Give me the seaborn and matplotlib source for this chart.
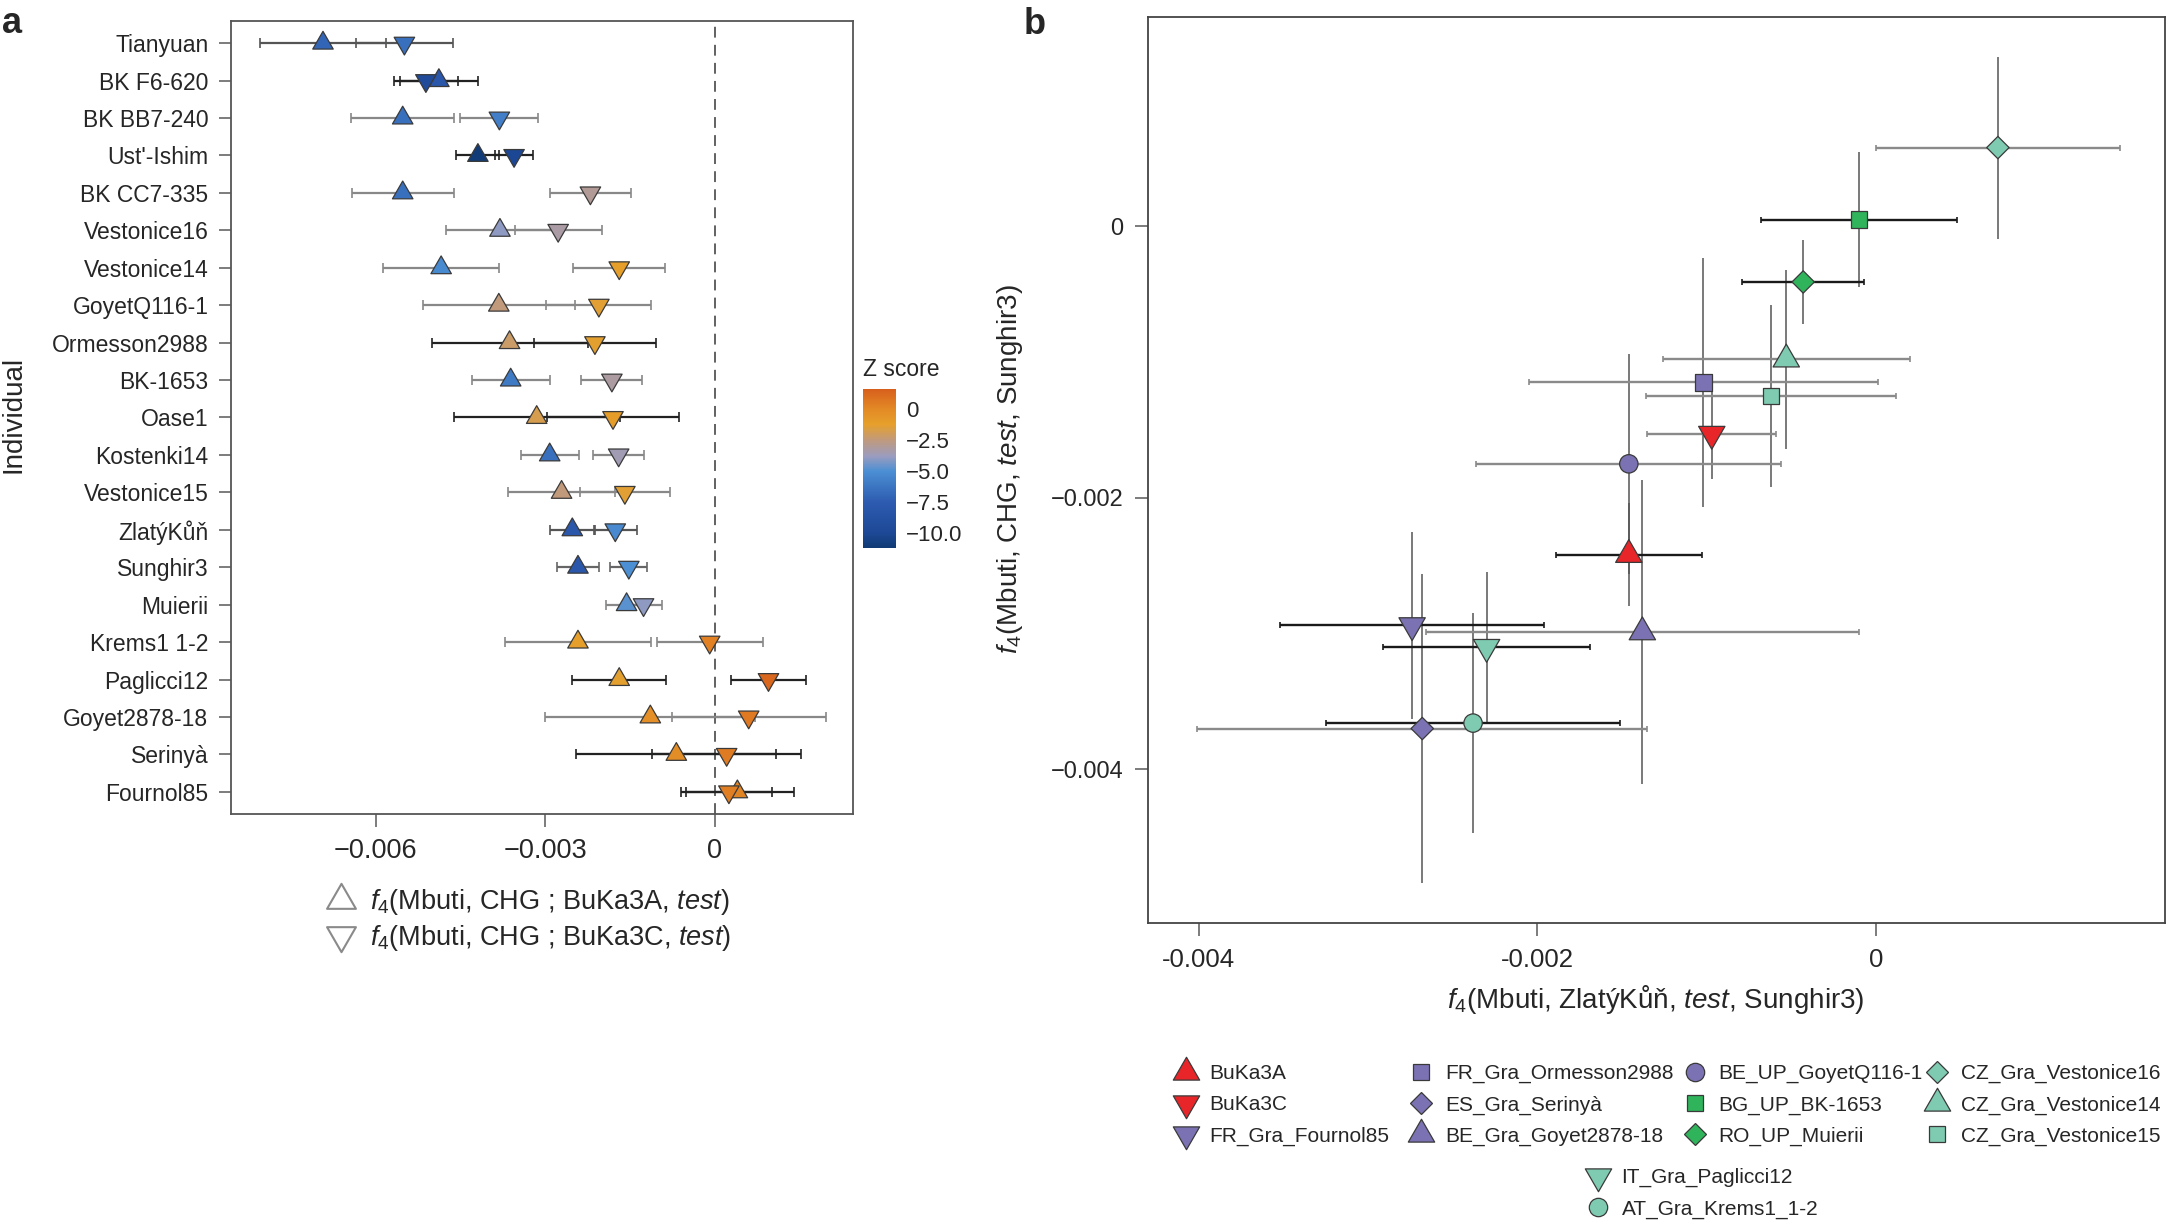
import numpy as np
import pandas as pd
import seaborn as sns
import matplotlib
matplotlib.use("Agg")
import matplotlib.pyplot as plt
from matplotlib.colors import LinearSegmentedColormap, Normalize
from matplotlib.cm import ScalarMappable
from matplotlib.lines import Line2D
from matplotlib.markers import MarkerStyle
from matplotlib.path import Path

# ----------------------------------------
# Panel a data: f4(Mbuti, CHG ; BuKa3A/BuKa3C, test)
# ----------------------------------------
individuals = ["Tianyuan", "BK F6-620", "BK BB7-240", "Ust'-Ishim", "BK CC7-335",
               "Vestonice16", "Vestonice14", "GoyetQ116-1", "Ormesson2988", "BK-1653",
               "Oase1", "Kostenki14", "Vestonice15", "ZlatýKůň", "Sunghir3",
               "Muierii", "Krems1 1-2", "Paglicci12", "Goyet2878-18", "Serinyà", "Fournol85"]

f4_buka3a = [-0.00693, -0.00488, -0.00552, -0.00419, -0.00552, -0.00380, -0.00484, -0.00382, -0.00363, -0.00361,
             -0.00315, -0.00292, -0.00271, -0.00252, -0.00242, -0.00156, -0.00242, -0.00169, -0.00114, -0.00068, 0.00040]
se_buka3a = [0.00112, 0.00069, 0.00091, 0.00038, 0.00090, 0.00096, 0.00102, 0.00134, 0.00138, 0.00069,
             0.00147, 0.00051, 0.00095, 0.00040, 0.00037, 0.00036, 0.00129, 0.00083, 0.00186, 0.00177, 0.00100]
z_buka3a = [-7.0, -8.0, -6.5, -11.0, -6.5, -4.0, -5.2, -2.5, -2.2, -6.0,
            -1.8, -6.5, -2.5, -8.0, -8.0, -4.8, -1.2, -1.3, -0.3, -0.2, 0.2]

f4_buka3c = [-0.00549, -0.00511, -0.00381, -0.00355, -0.00220, -0.00277, -0.00169, -0.00205, -0.00212, -0.00182,
             -0.00180, -0.00170, -0.00159, -0.00176, -0.00152, -0.00126, -0.00009, 0.00095, 0.00060, 0.00021, 0.00025]
se_buka3c = [0.00086, 0.00057, 0.00069, 0.00033, 0.00071, 0.00077, 0.00081, 0.00093, 0.00108, 0.00054,
             0.00116, 0.00045, 0.00080, 0.00038, 0.00033, 0.00033, 0.00094, 0.00066, 0.00136, 0.00132, 0.00076]
z_buka3c = [-6.5, -9.5, -5.8, -10.0, -3.0, -3.3, -1.2, -1.4, -1.3, -3.2,
            -1.0, -3.6, -1.4, -5.3, -5.0, -4.0, 0.3, 1.3, 0.6, 0.5, 0.4]

# ----------------------------------------
# Panel b data: f4(Mbuti, ZlatýKůň, test, Sunghir3) vs f4(Mbuti, CHG, test, Sunghir3)
# ----------------------------------------
samples_b = ["BuKa3A", "BuKa3C", "FR_Gra_Fournol85",
             "FR_Gra_Ormesson2988", "ES_Gra_Serinyà", "BE_Gra_Goyet2878-18",
             "BE_UP_GoyetQ116-1", "BG_UP_BK-1653", "RO_UP_Muierii",
             "CZ_Gra_Vestonice16", "CZ_Gra_Vestonice14", "CZ_Gra_Vestonice15",
             "IT_Gra_Paglicci12", "AT_Gra_Krems1_1-2"]
x_b = [-0.00146, -0.00097, -0.00274, -0.00102, -0.00268, -0.00138, -0.00146,
       -0.00010, -0.00043, 0.00072, -0.00053, -0.00062, -0.00230, -0.00238]
xerr_b = [0.00043, 0.00038, 0.00078, 0.00103, 0.00133, 0.00128, 0.00090,
          0.00058, 0.00036, 0.00072, 0.00073, 0.00074, 0.00061, 0.00087]
y_b = [-0.00242, -0.00153, -0.00294, -0.00115, -0.00370, -0.00299, -0.00175,
       0.00005, -0.00041, 0.00058, -0.00098, -0.00125, -0.00310, -0.00366]
yerr_b = [0.00038, 0.00033, 0.00069, 0.00092, 0.00114, 0.00112, 0.00081,
          0.00050, 0.00031, 0.00067, 0.00066, 0.00067, 0.00055, 0.00081]

# ----------------------------------------
# Styles
# ----------------------------------------
sns.set_theme(style="white")
plt.rcParams["font.family"] = ["Liberation Sans", "DejaVu Sans"]
plt.rcParams["mathtext.fontset"] = "custom"
plt.rcParams["mathtext.rm"] = "Liberation Sans"
plt.rcParams["mathtext.it"] = "Liberation Sans:italic"
plt.rcParams["mathtext.bf"] = "Liberation Sans:bold"

W, H = 2167, 1227

# equilateral triangles centred on their centroid
TRI_UP = MarkerStyle(Path([(0, 1), (-0.866, -0.5), (0.866, -0.5), (0, 1)], closed=True))
TRI_DN = MarkerStyle(Path([(0, -1), (-0.866, 0.5), (0.866, 0.5), (0, -1)], closed=True))

# Z score colour map
z_min, z_max = -11.2, 1.6
z_nodes = [-11.2, -10, -7.5, -5, -3.8, -2.5, -1.2, 0, 1.6]
z_cols = ["#0f3a72", "#1d4896", "#2d5bb0", "#4b8fd3", "#9a9cc0", "#c09a7e", "#e6a02a", "#e38a26", "#d8601c"]
cmap = LinearSegmentedColormap.from_list(
    "zscore", [((v - z_min) / (z_max - z_min), c) for v, c in zip(z_nodes, z_cols)])
norm = Normalize(z_min, z_max)

# error bar shade per row in panel a
bar_col_a = ["#555555", "#222222", "#888888", "#222222", "#888888", "#888888", "#888888",
             "#888888", "#222222", "#888888", "#222222", "#888888", "#888888", "#555555",
             "#666666", "#888888", "#888888", "#222222", "#888888", "#222222", "#222222"]

grp_red, grp_pur, grp_grn, grp_teal = "#e8262a", "#7b72b4", "#2fb35b", "#7ecbb2"
col_b = dict(zip(samples_b, [grp_red, grp_red, grp_pur, grp_pur, grp_pur, grp_pur, grp_pur,
                             grp_grn, grp_grn, grp_teal, grp_teal, grp_teal, grp_teal, grp_teal]))
mk_b = dict(zip(samples_b, [TRI_UP, TRI_DN, TRI_DN, "s", "D", TRI_UP, "o",
                            "s", "D", "D", TRI_UP, "s", TRI_DN, "o"]))
size_of = {"tri": 480, "s": 140, "D": 130, "o": 175}
sz_b = {k: size_of["tri"] if isinstance(m, MarkerStyle) else size_of[m] for k, m in mk_b.items()}
hbar_col_b = ["#1a1a1a", "#8a8a8a", "#1a1a1a", "#8a8a8a", "#8a8a8a", "#8a8a8a", "#8a8a8a",
              "#1a1a1a", "#1a1a1a", "#8a8a8a", "#8a8a8a", "#8a8a8a", "#1a1a1a", "#1a1a1a"]

fig = plt.figure(figsize=(W / 100, H / 100), dpi=100)
ax_a = fig.add_axes([231.4 / W, 1 - 814.3 / H, (853 - 231.4) / W, (814.3 - 20.7) / H])
cax = fig.add_axes([863.3 / W, 1 - 548.3 / H, 32.7 / W, 159 / H])
ax_b = fig.add_axes([1148 / W, 1 - 923.3 / H, (2165 - 1148) / W, (923.3 - 16.6) / H])

# ----------------------------------------
# Panel a
# ----------------------------------------
rows = np.arange(len(individuals))
df_a = pd.concat([
    pd.DataFrame({"row": rows, "f4": f4_buka3a, "se": se_buka3a, "z": z_buka3a, "ref": "BuKa3A"}),
    pd.DataFrame({"row": rows, "f4": f4_buka3c, "se": se_buka3c, "z": z_buka3c, "ref": "BuKa3C"}),
], ignore_index=True)

ax_a.axvline(0, color="#555555", lw=1.3, ls=(0, (6, 4)), zorder=1)
for _, r in df_a.iterrows():
    ax_a.errorbar(r["f4"], r["row"], xerr=r["se"], fmt="none",
                  ecolor=bar_col_a[int(r["row"])], elinewidth=1.6, capsize=3.6, capthick=1.2, zorder=2)

sns.scatterplot(data=df_a, x="f4", y="row", hue="z", hue_norm=norm, palette=cmap,
                style="ref", markers={"BuKa3A": TRI_UP, "BuKa3C": TRI_DN},
                s=290, edgecolor="#3a3a3a", linewidth=0.9, legend=False, ax=ax_a, zorder=3)

ax_a.set_xlim(-0.00855, 0.002445)
ax_a.set_ylim(len(individuals) - 0.4, -0.6)
ax_a.set_yticks(rows)
ax_a.set_yticklabels(individuals)
ax_a.set_xticks([-0.006, -0.003, 0])
ax_a.set_xticklabels(["\u22120.006", "\u22120.003", "0"])
ax_a.set_xlabel("")
ax_a.set_ylabel("")
ax_a.tick_params(axis="y", length=8.5, width=1.2, color="#666666", labelsize=16.5, pad=8, left=True)
ax_a.tick_params(axis="x", length=9, width=1.2, color="#666666", labelsize=19.5, pad=8, bottom=True)
for sp in ax_a.spines.values():
    sp.set_color("#555555")
    sp.set_linewidth(1.3)

fig.text(14 / W, 1 - 414.6 / H, "Individual", rotation=90, ha="center", va="center", fontsize=20)

leg_a_handles = [
    Line2D([], [], ls="", marker=TRI_UP, ms=24, mfc="white", mec="#8a8a8a", mew=1.5),
    Line2D([], [], ls="", marker=TRI_DN, ms=24, mfc="white", mec="#8a8a8a", mew=1.5),
]
leg_a_labels = [r"$f_4$(Mbuti, CHG ; BuKa3A, $\mathit{test}$)",
                r"$f_4$(Mbuti, CHG ; BuKa3C, $\mathit{test}$)"]
fig.legend(leg_a_handles, leg_a_labels, loc="center left",
           bbox_to_anchor=((341.5 - 15) / W, 1 - 920 / H), frameon=False, fontsize=19.5,
           handlelength=1.1, handletextpad=0.5, labelspacing=0.2, borderpad=0, borderaxespad=0)

# colour bar
sm = ScalarMappable(norm=norm, cmap=cmap)
cb = fig.colorbar(sm, cax=cax)
cb.outline.set_visible(False)
cb.set_ticks([0, -2.5, -5, -7.5, -10])
cb.set_ticklabels(["0", "\u22122.5", "\u22125.0", "\u22127.5", "\u221210.0"])
cax.yaxis.set_ticks_position("both")
cax.tick_params(axis="y", direction="in", color="white", length=5, width=1.2,
                labelsize=16, pad=7, labelleft=False, labelright=True)
fig.text(863 / W, 1 - 370 / H, "Z score", ha="left", va="center", fontsize=16.5)

# ----------------------------------------
# Panel b
# ----------------------------------------
df_b = pd.DataFrame({"sample": samples_b, "x": x_b, "y": y_b, "xerr": xerr_b, "yerr": yerr_b})

for i, r in df_b.iterrows():
    ax_b.errorbar(r["x"], r["y"], yerr=r["yerr"], fmt="none", ecolor="#555555",
                  elinewidth=1.1, capsize=0, zorder=2)
for i, r in df_b.iterrows():
    ax_b.errorbar(r["x"], r["y"], xerr=r["xerr"], fmt="none", ecolor=hbar_col_b[i],
                  elinewidth=1.7, capsize=2.5, capthick=1.2, zorder=2)

sns.scatterplot(data=df_b, x="x", y="y", hue="sample", palette=col_b,
                style="sample", markers=mk_b, size="sample", sizes=sz_b,
                edgecolor="#3a3a3a", linewidth=0.9, legend=False, ax=ax_b, zorder=3)

ax_b.set_xlim(-0.0043, 0.001707)
ax_b.set_ylim(-0.005135, 0.001545)
ax_b.set_xticks([-0.004, -0.002, 0])
ax_b.set_xticklabels(["-0.004", "-0.002", "0"])
ax_b.set_yticks([-0.004, -0.002, 0])
ax_b.set_yticklabels(["\u22120.004", "\u22120.002", "0"])
ax_b.set_xlabel("")
ax_b.set_ylabel("")
ax_b.tick_params(axis="both", length=9.5, width=1.2, color="#666666", labelsize=17, pad=8,
                 left=True, bottom=True)
ax_b.tick_params(axis="x", labelsize=18.5)
for sp in ax_b.spines.values():
    sp.set_color("#444444")
    sp.set_linewidth(1.3)

fig.text(1656 / W, 1 - 1000 / H, r"$f_4$(Mbuti, ZlatýKůň, $\mathit{test}$, Sunghir3)",
         ha="center", va="center", fontsize=20)
fig.text(1010 / W, 1 - 469.6 / H, r"$f_4$(Mbuti, CHG, $\mathit{test}$, Sunghir3)",
         rotation=90, ha="center", va="center", fontsize=20)

# legend for panel b: four columns of three, then two centred entries
def leg_handle(name):
    m = mk_b[name]
    return Line2D([], [], ls="", marker=m, ms=np.sqrt(sz_b[name]), mfc=col_b[name],
                  mec="#3a3a3a", mew=0.9)

leg_fs = 15
hl = 1.0
col_groups = [samples_b[0:3], samples_b[3:6], samples_b[6:9], samples_b[9:12]]
col_x = [1185.7, 1421, 1694.7, 1936.6]
for names, xm in zip(col_groups, col_x):
    fig.legend([leg_handle(n) for n in names], names, loc="center left",
               bbox_to_anchor=((xm - hl * leg_fs * 100 / 72 / 2) / W, 1 - 1105 / H),
               frameon=False, fontsize=leg_fs, handlelength=hl, handletextpad=0.65,
               labelspacing=0.58, borderpad=0, borderaxespad=0)
fig.legend([leg_handle(n) for n in samples_b[12:]], samples_b[12:], loc="center left",
           bbox_to_anchor=((1597.5 - hl * leg_fs * 100 / 72 / 2) / W, 1 - 1193.4 / H),
           frameon=False, fontsize=leg_fs, handlelength=hl, handletextpad=0.65,
           labelspacing=0.58, borderpad=0, borderaxespad=0)

# panel letters
fig.text(2 / W, 1 - 33 / H, "a", fontsize=26, fontweight="bold", ha="left", va="baseline")
fig.text(1024 / W, 1 - 34 / H, "b", fontsize=26, fontweight="bold", ha="left", va="baseline")

fig.savefig("out.png", dpi=100)
